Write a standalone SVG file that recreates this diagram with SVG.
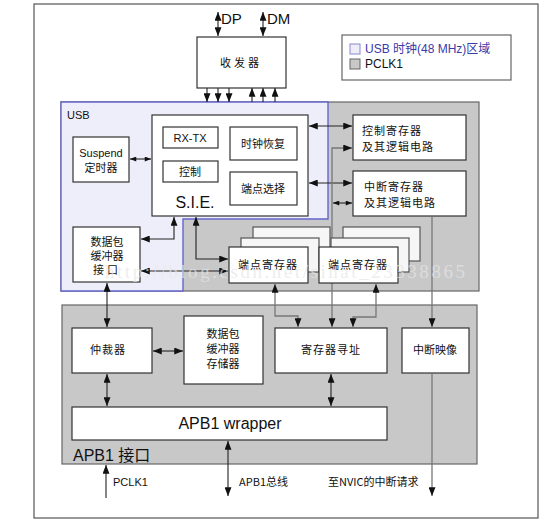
<svg xmlns="http://www.w3.org/2000/svg" width="548" height="523" viewBox="0 0 548 523">
<style>
.box{fill:#fff;stroke:#333;stroke-width:1.2}
.stk{fill:#f6f6f6;stroke:#555;stroke-width:1.2}
.t{font-family:"Noto Sans CJK SC","Liberation Sans",sans-serif;font-size:11px;fill:#111;text-anchor:middle}
.tl{font-family:"Noto Sans CJK SC","Liberation Sans",sans-serif;font-size:11px;fill:#111}
.big{font-family:"Liberation Sans","Noto Sans CJK SC",sans-serif;font-size:16px;fill:#111}
.c{fill:none;stroke:#222;stroke-width:1.1}
.g{fill:none;stroke:#777;stroke-width:1.3}
</style>
<defs>
<marker id="a" viewBox="0 0 10 8" refX="10" refY="4" markerWidth="9" markerHeight="7" orient="auto-start-reverse" markerUnits="userSpaceOnUse"><path d="M0,0 L10,4 L0,8 z" fill="#111"/></marker>
<marker id="s" viewBox="0 0 10 8" refX="10" refY="4" markerWidth="7" markerHeight="5" orient="auto-start-reverse" markerUnits="userSpaceOnUse"><path d="M0,0 L10,4 L0,8 z" fill="#111"/></marker>
</defs>
<rect x="34" y="4" width="504" height="514" fill="#fff" stroke="#555" stroke-width="1.2"/>
<g id="legend">
<rect x="342" y="35" width="169" height="45" fill="#fff" stroke="#666" stroke-width="1.2"/>
<rect x="350" y="44" width="10" height="10" fill="#eeeefa" stroke="#8888cc"/>
<text x="365" y="53" font-family="Liberation Sans,'Noto Sans CJK SC',sans-serif" font-size="12" fill="#3a3aa8">USB 时钟(48 MHz)区域</text>
<rect x="350" y="59" width="10" height="10" fill="#c8c8c8" stroke="#666"/>
<text x="365" y="68" font-family="Liberation Sans,sans-serif" font-size="12" fill="#111">PCLK1</text>
</g>
<g id="regions">
<rect x="61" y="102" width="418" height="189" fill="#c8c8c8" stroke="#666" stroke-width="1.2"/>
<path d="M61,102 H328 V219 H183 V291 H61 Z" fill="#eeeefa" stroke="#6666cc" stroke-width="1.4"/>
<text x="67" y="119" font-family="Liberation Sans,sans-serif" font-size="11" fill="#111">USB</text>
<rect x="62" y="305" width="415" height="159" fill="#c8c8c8" stroke="#666" stroke-width="1.2"/>
<text x="73" y="461" class="big">APB1 接口</text>
</g>
<g id="connectors">
<line class="c" x1="218" y1="12" x2="218" y2="36" marker-start="url(#a)" marker-end="url(#a)"/>
<line class="c" x1="263" y1="12" x2="263" y2="36" marker-start="url(#a)" marker-end="url(#a)"/>
<line class="c" x1="207" y1="88" x2="207" y2="102" marker-end="url(#a)"/>
<line class="c" x1="218" y1="88" x2="218" y2="102" marker-end="url(#a)"/>
<line class="c" x1="229" y1="88" x2="229" y2="102" marker-end="url(#a)"/>
<line class="c" x1="252" y1="102" x2="252" y2="88" marker-end="url(#a)"/>
<line class="c" x1="263" y1="102" x2="263" y2="88" marker-end="url(#a)"/>
<line class="c" x1="275" y1="102" x2="275" y2="88" marker-end="url(#a)"/>
<line class="c" x1="130" y1="159" x2="151" y2="159" marker-start="url(#s)" marker-end="url(#s)"/>
<line class="c" x1="309" y1="126" x2="352" y2="126" marker-start="url(#a)" marker-end="url(#a)"/>
<line class="c" x1="309" y1="183" x2="352" y2="183" marker-start="url(#a)" marker-end="url(#a)"/>
<path class="g" d="M332,327 V148 H352" marker-start="url(#a)" marker-end="url(#a)"/>
<line class="c" x1="333" y1="203" x2="352" y2="203" marker-start="url(#s)" marker-end="url(#s)"/>
<line class="g" x1="432" y1="217" x2="432" y2="327" marker-end="url(#a)"/>
<path class="c" d="M174,217 V239 H141" marker-start="url(#a)" marker-end="url(#a)"/>
<path class="c" d="M196,217 V259 H228" marker-start="url(#a)" marker-end="url(#a)"/>
<line class="c" x1="141" y1="271" x2="228" y2="271" marker-start="url(#a)" marker-end="url(#a)"/>
<line class="c" x1="107" y1="283" x2="107" y2="327" marker-start="url(#a)" marker-end="url(#a)"/>
<path class="g" d="M275,284 V316 H298 V327" marker-start="url(#a)" marker-end="url(#a)"/>
<path class="g" d="M376,284 V317 H353 V327" marker-start="url(#a)" marker-end="url(#a)"/>
<line class="c" x1="153" y1="351" x2="183" y2="351" marker-start="url(#a)" marker-end="url(#a)"/>
<line class="c" x1="107" y1="374" x2="107" y2="406" marker-start="url(#a)" marker-end="url(#a)"/>
<line class="c" x1="331" y1="374" x2="331" y2="406" marker-start="url(#a)" marker-end="url(#a)"/>
<line class="g" x1="432" y1="374" x2="432" y2="496" marker-end="url(#a)"/>
<line class="c" x1="106" y1="498" x2="106" y2="465" marker-end="url(#a)"/>
<line class="c" x1="228" y1="441" x2="228" y2="496" marker-start="url(#a)" marker-end="url(#a)"/>
</g>
<g id="transceiver">
<rect class="box" x="197" y="37" width="89" height="51"/>
<text class="t" x="241" y="67" letter-spacing="3">收发器</text>
</g>
<g id="suspend">
<rect class="box" x="73" y="137" width="56" height="45"/>
<text x="101" y="157" font-family="Liberation Sans,sans-serif" font-size="11" fill="#111" text-anchor="middle">Suspend</text>
<text class="t" x="101" y="172">定时器</text>
</g>
<g id="sie">
<rect class="box" x="152" y="115" width="156" height="101"/>
<text x="195" y="208" class="big" text-anchor="middle">S.I.E.</text>
</g>
<g id="rxtx">
<rect class="box" x="163" y="127" width="55" height="21"/>
<text x="190" y="142" font-family="Liberation Sans,sans-serif" font-size="11" fill="#111" text-anchor="middle">RX-TX</text>
</g>
<g id="ctrl">
<rect class="box" x="163" y="161" width="55" height="21"/>
<text class="t" x="190" y="176">控制</text>
</g>
<g id="clkrec">
<rect class="box" x="230" y="127" width="67" height="33"/>
<text class="t" x="263" y="148">时钟恢复</text>
</g>
<g id="epsel">
<rect class="box" x="230" y="172" width="67" height="33"/>
<text class="t" x="263" y="193">端点选择</text>
</g>
<g id="ctrlreg">
<rect class="box" x="353" y="115" width="113" height="45"/>
<text class="tl" x="362" y="135" letter-spacing="1">控制寄存器</text>
<text class="tl" x="362" y="151" letter-spacing="1">及其逻辑电路</text>
</g>
<g id="intreg">
<rect class="box" x="353" y="171" width="113" height="45"/>
<text class="tl" x="364" y="191" letter-spacing="1">中断寄存器</text>
<text class="tl" x="364" y="207" letter-spacing="1">及其逻辑电路</text>
</g>
<g id="pbiface">
<rect class="box" x="73" y="227" width="67" height="55"/>
<text class="t" x="107" y="246">数据包</text>
<text class="t" x="107" y="260">缓冲器</text>
<text class="t" x="107" y="274" letter-spacing="3">接口</text>
</g>
<g id="epreg1">
<rect class="stk" x="253" y="227" width="77" height="34"/>
<rect class="stk" x="241" y="238" width="78" height="34"/>
<rect class="box" x="229" y="247" width="79" height="36"/>
<text class="t" x="268" y="269" letter-spacing="1">端点寄存器</text>
</g>
<g id="epreg2">
<rect class="stk" x="343" y="227" width="77" height="34"/>
<rect class="stk" x="331" y="238" width="78" height="34"/>
<rect class="box" x="319" y="247" width="79" height="36"/>
<text class="t" x="358" y="269" letter-spacing="1">端点寄存器</text>
</g>
<g id="arbiter">
<rect class="box" x="72" y="328" width="80" height="45"/>
<text class="t" x="108" y="354" letter-spacing="1">仲裁器</text>
</g>
<g id="pbmem">
<rect class="box" x="184" y="316" width="79" height="68"/>
<text class="t" x="223" y="338">数据包</text>
<text class="t" x="223" y="353">缓冲器</text>
<text class="t" x="223" y="368">存储器</text>
</g>
<g id="regaddr">
<rect class="box" x="275" y="328" width="112" height="45"/>
<text class="t" x="331" y="354" letter-spacing="1">寄存器寻址</text>
</g>
<g id="intmap">
<rect class="box" x="402" y="328" width="67" height="45"/>
<text class="t" x="435" y="354">中断映像</text>
</g>
<g id="apb1wrapper">
<rect class="box" x="72" y="407" width="315" height="33"/>
<text x="230" y="429" class="big" text-anchor="middle">APB1 wrapper</text>
</g>
<g id="labels">
<text x="221" y="24" font-family="Liberation Sans,sans-serif" font-size="15" fill="#111">DP</text>
<text x="267" y="24" font-family="Liberation Sans,sans-serif" font-size="15" fill="#111">DM</text>
<text x="113" y="486" font-family="Liberation Sans,sans-serif" font-size="11" fill="#111">PCLK1</text>
<text class="tl" x="239" y="486">APB1总线</text>
<text class="tl" x="328" y="486">至NVIC的中断请求</text>
</g>
<text x="105" y="278" font-family="Liberation Serif,serif" font-size="19" fill="#e6e6e6" fill-opacity="0.7" textLength="360">http://blog.csdn.net/sinat_23338865</text>
</svg>
